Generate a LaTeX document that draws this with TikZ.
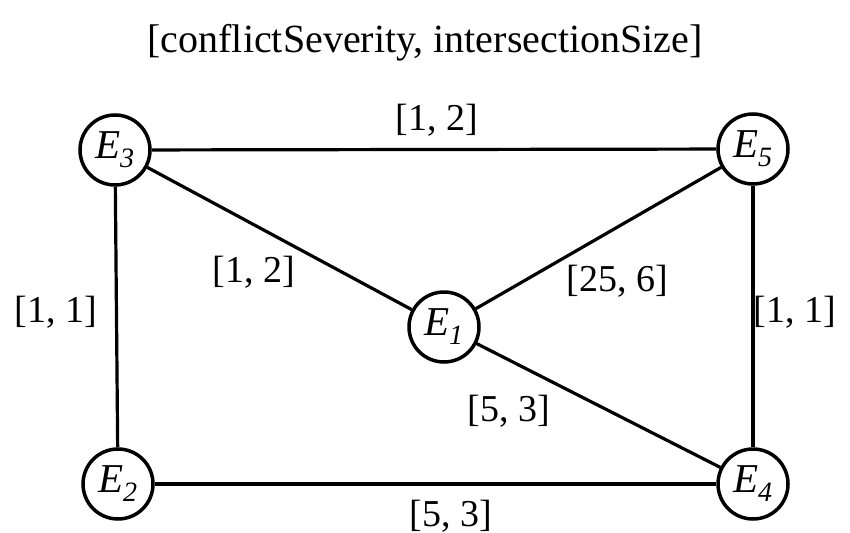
\documentclass[tikz,border=0pt]{standalone}
\usepackage{fontspec}
\setmainfont{Liberation Serif}
\usetikzlibrary{positioning}

\newcommand{\ent}[1]{\textit{E\kern-1pt\raisebox{-9pt}{\fontsize{28}{28}\selectfont #1}}}

\begin{document}
\begin{tikzpicture}[x=1pt, y=-1pt,
  ent/.style={draw, circle, line width=3.5pt, minimum size=70pt, inner sep=0pt, fill=white,
    font=\fontsize{41}{41}\selectfont},
  edge/.style={line width=3.2pt},
  lab/.style={font=\fontsize{38}{38}\selectfont, inner sep=0pt},
  ttl/.style={font=\fontsize{40}{40}\selectfont, inner sep=0pt}]
\useasboundingbox (0,0) rectangle (850,532);
% --- title
\node[ttl] (title) at (425,43) {[conflictSeverity, intersectionSize]};
% --- entities
\node[ent] (e3) at (115,150) {\ent{3}};
\node[ent] (e5) at (753,149) {\ent{5}};
\node[ent] (e1) at (444,327) {\ent{1}};
\node[ent] (e2) at (118,484) {\ent{2}};
\node[ent] (e4) at (753,484) {\ent{4}};
% --- edges
\draw[edge] (e3) -- (e5);
\draw[edge] (e3) -- (e1);
\draw[edge] (e3) -- (e2);
\draw[edge] (e5) -- (e1);
\draw[edge] (e5) -- (e4);
\draw[edge] (e1) -- (e4);
\draw[edge] (e2) -- (e4);
% --- labels
\node[lab] (l35) at (437,120) {[1, 2]};
\node[lab] (l31) at (254,272) {[1, 2]};
\node[lab] (l51) at (617,281) {[25, 6]};
\node[lab] (l32) at (56,312) {[1, 1]};
\node[lab] (l54) at (795,312) {[1, 1]};
\node[lab] (l14) at (509,411) {[5, 3]};
\node[lab] (l24) at (451,516) {[5, 3]};
\end{tikzpicture}
\end{document}
